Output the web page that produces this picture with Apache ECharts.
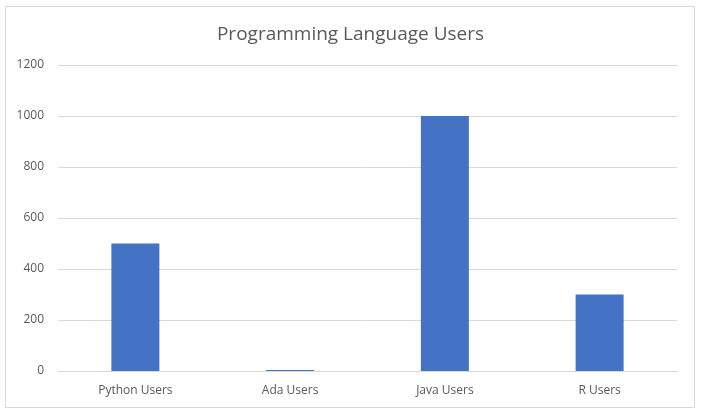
<!DOCTYPE html>
<html>
<head>
<meta charset="utf-8">
<script src="https://cdn.jsdelivr.net/npm/echarts@6/dist/echarts.min.js"></script>
<style>
  html, body { margin: 0; padding: 0; background: #fff; }
  #chart { width: 701px; height: 414px; }
</style>
</head>
<body>
<div id="chart"></div>
<script>
// chart data
const categories = ['Python Users', 'Ada Users', 'Java Users', 'R Users'];
const userCounts = [500, 4, 1000, 300];
const yTicks = { min: 0, max: 1200, interval: 200 };

const chart = echarts.init(document.getElementById('chart'));

chart.setOption({
    animation: false,
    title: {
        text: 'Programming Language Users',
        left: 'center',
        top: 20,
        textStyle: {
            fontFamily: 'Open Sans, Liberation Sans, sans-serif',
            fontSize: 19,
            fontWeight: 'normal',
            color: '#595959'
        }
    },
    // outer chart border
    graphic: [{
        type: 'rect',
        shape: { x: 5.5, y: 6.5, width: 689, height: 401 },
        style: { fill: 'none', stroke: '#d9d9d9', lineWidth: 1 },
        silent: true
    }],
    grid: { left: 58, right: 24, top: 65, bottom: 43 },
    xAxis: {
        type: 'category',
        data: categories,
        axisTick: { show: false },
        axisLine: { lineStyle: { color: '#d9d9d9' } },
        axisLabel: {
            color: '#595959',
            fontSize: 12,
            fontFamily: 'Open Sans, Liberation Sans, sans-serif',
            margin: 14
        }
    },
    yAxis: {
        type: 'value',
        min: yTicks.min,
        max: yTicks.max,
        interval: yTicks.interval,
        axisLine: { show: false },
        axisTick: { show: false },
        splitLine: { lineStyle: { color: '#d9d9d9' } },
        axisLabel: {
            color: '#595959',
            fontSize: 12,
            fontFamily: 'Open Sans, Liberation Sans, sans-serif',
            margin: 14,
            formatter: (v) => String(v)
        }
    },
    series: [{
        type: 'bar',
        data: userCounts,
        barWidth: '31%',
        itemStyle: { color: '#4472c4' }
    }]
});
</script>
</body>
</html>
